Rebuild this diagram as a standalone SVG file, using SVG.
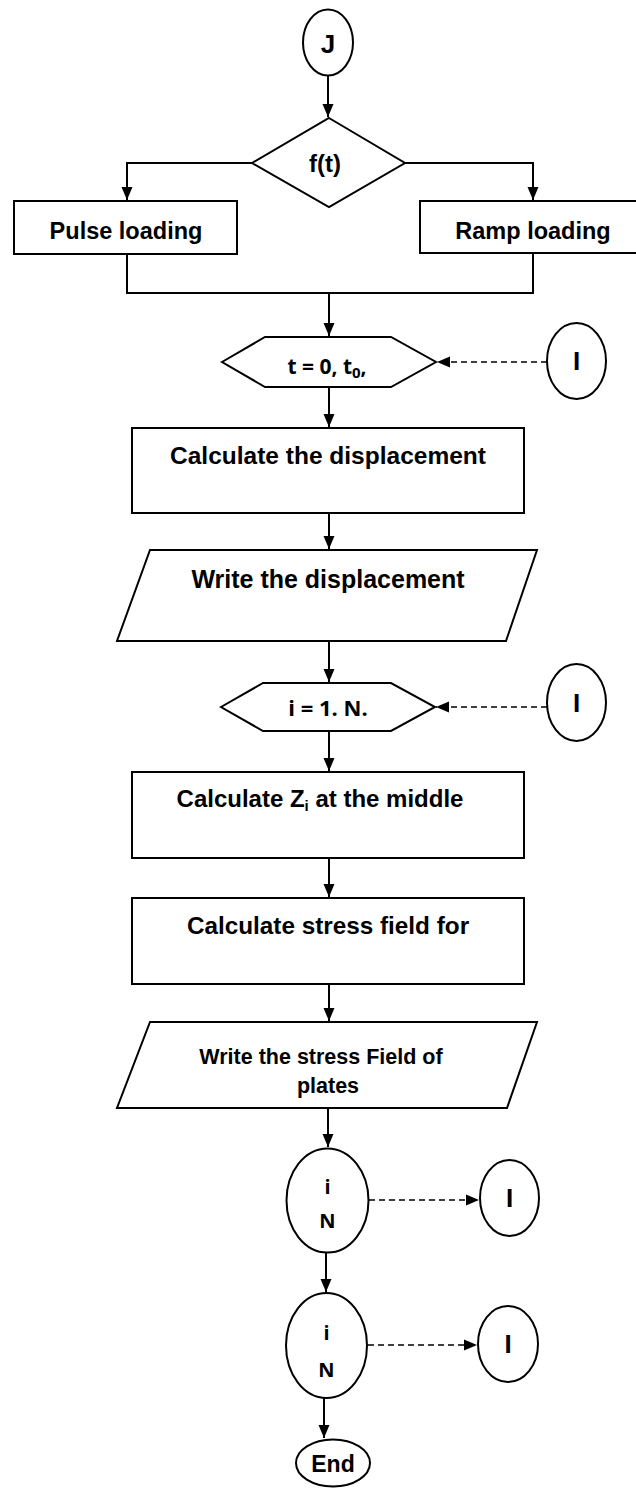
<svg xmlns="http://www.w3.org/2000/svg" width="636" height="1488" viewBox="0 0 636 1488">
<style>
.s{fill:#fff;stroke:#000;stroke-width:2}
.c{fill:none;stroke:#000;stroke-width:2}
.d{fill:none;stroke:#000;stroke-width:1.6;stroke-dasharray:6 4}
.t{font-family:"Liberation Sans",Arial,sans-serif;font-weight:bold;fill:#000;text-anchor:middle}
.k{font-family:"Open Sans","Noto Sans",sans-serif;font-weight:bold;fill:#000;text-anchor:middle}
</style>
<defs>
<marker id="a" markerUnits="userSpaceOnUse" markerWidth="14" markerHeight="14" viewBox="0 0 14 14" refX="13" refY="7" orient="auto">
<path d="M0,1.5 L13,7 L0,12.5 Z" fill="#000"/>
</marker>
</defs>
<rect width="636" height="1488" fill="#fff"/>
<g id="connectors">
<path class="c" d="M328,76 V117" marker-end="url(#a)"/>
<path class="c" d="M252,163 H127 V200" marker-end="url(#a)"/>
<path class="c" d="M405,163 H533 V200" marker-end="url(#a)"/>
<path class="c" d="M127,254 V293 H533 V253"/>
<path class="c" d="M329,293 V336" marker-end="url(#a)"/>
<path class="d" d="M547,362 H437" marker-end="url(#a)"/>
<path class="c" d="M329,387 V427" marker-end="url(#a)"/>
<path class="c" d="M329,513 V549" marker-end="url(#a)"/>
<path class="c" d="M329,641 V682" marker-end="url(#a)"/>
<path class="d" d="M547,707 H436" marker-end="url(#a)"/>
<path class="c" d="M329,731 V771" marker-end="url(#a)"/>
<path class="c" d="M329,858 V897" marker-end="url(#a)"/>
<path class="c" d="M329,984 V1021" marker-end="url(#a)"/>
<path class="c" d="M328,1108 V1147" marker-end="url(#a)"/>
<path class="d" d="M369,1200 H479" marker-end="url(#a)"/>
<path class="c" d="M326,1253 V1292" marker-end="url(#a)"/>
<path class="d" d="M368,1345 H477" marker-end="url(#a)"/>
<path class="c" d="M324,1398 V1438" marker-end="url(#a)"/>
</g>
<g id="start">
<ellipse class="s" cx="328" cy="42.5" rx="25" ry="33"/>
<text class="t" x="328" y="53" font-size="26">J</text>
</g>
<g id="decision">
<polygon class="s" points="329,118 405,163 329,207 252,163"/>
<text class="t" x="325" y="172" font-size="24">f(t)</text>
</g>
<g id="pulse">
<rect class="s" x="14" y="201" width="223" height="53"/>
<text class="t" x="126" y="239" font-size="23.5">Pulse loading</text>
</g>
<g id="ramp">
<rect class="s" x="420" y="201" width="220" height="52"/>
<text class="t" x="533" y="239" font-size="23.5">Ramp loading</text>
</g>
<g id="loop-t">
<polygon class="s" points="222,362 265,337 391,337 436,362 391,387 265,387"/>
<text class="k" x="327" y="374" font-size="21">t = 0, t<tspan font-size="15" dy="4">0</tspan><tspan dy="-4">,</tspan></text>
</g>
<g id="conn-1">
<ellipse class="s" cx="576.5" cy="361" rx="29.5" ry="38"/>
<text class="t" x="576.5" y="370" font-size="26">I</text>
</g>
<g id="calc-disp">
<rect class="s" x="132" y="428" width="392" height="85"/>
<text class="t" x="328" y="464" font-size="24.5">Calculate the displacement</text>
</g>
<g id="write-disp">
<polygon class="s" points="150,550 537,550 506,641 117,641"/>
<text class="t" x="328" y="588" font-size="25">Write the displacement</text>
</g>
<g id="loop-i">
<polygon class="s" points="221,707 263,683 391,683 435,707 391,731 263,731"/>
<text class="k" x="328" y="716" font-size="22">i = 1. N.</text>
</g>
<g id="conn-2">
<ellipse class="s" cx="576.5" cy="702.5" rx="29.5" ry="38.5"/>
<text class="t" x="576.5" y="712" font-size="26">I</text>
</g>
<g id="calc-z">
<rect class="s" x="132" y="772" width="392" height="86"/>
<text class="t" x="320" y="807" font-size="24">Calculate Z<tspan font-size="15" dy="4">i</tspan><tspan dy="-4"> at the middle</tspan></text>
</g>
<g id="calc-stress">
<rect class="s" x="132" y="898" width="392" height="86"/>
<text class="t" x="328" y="934" font-size="24.3">Calculate stress field for</text>
</g>
<g id="write-stress">
<polygon class="s" points="150,1022 537,1022 507,1108 117,1108"/>
<text class="t" x="321" y="1064" font-size="21.5">Write the stress Field of</text>
<text class="t" x="328" y="1093" font-size="21.5">plates</text>
</g>
<g id="check-1">
<ellipse class="s" cx="327.5" cy="1200.5" rx="41" ry="52"/>
<text class="k" x="327.5" y="1194" font-size="20">i</text>
<text class="k" x="327.5" y="1228" font-size="20">N</text>
</g>
<g id="conn-3">
<ellipse class="s" cx="509.5" cy="1198" rx="29.5" ry="38"/>
<text class="t" x="509.5" y="1207" font-size="26">I</text>
</g>
<g id="check-2">
<ellipse class="s" cx="326.5" cy="1345.5" rx="40.5" ry="52.5"/>
<text class="k" x="326.5" y="1340" font-size="20">i</text>
<text class="k" x="326.5" y="1377" font-size="20">N</text>
</g>
<g id="conn-4">
<ellipse class="s" cx="508" cy="1344" rx="30" ry="38"/>
<text class="t" x="508" y="1353" font-size="26">I</text>
</g>
<g id="end">
<ellipse class="s" cx="333" cy="1463" rx="37" ry="23.5"/>
<text class="t" x="333" y="1472" font-size="23">End</text>
</g>
</svg>
